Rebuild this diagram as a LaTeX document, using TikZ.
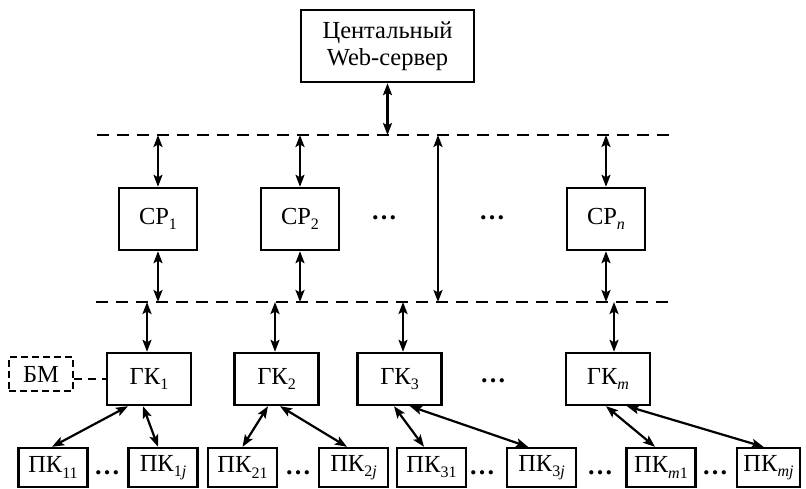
\documentclass[tikz,border=0pt]{standalone}
\usepackage{fontspec}
\setmainfont{Liberation Serif}
\usetikzlibrary{arrows.meta}
\newcommand\sbs[1]{\raisebox{-0.45ex}{\fontsize{16}{16}\selectfont #1}}
\begin{document}
\begin{tikzpicture}[x=1pt,y=-1pt,
  every node/.style={font=\fontsize{24.5}{27}\selectfont},
  box/.style={draw,line width=2.4pt,minimum width=#1,inner sep=0pt},
  box/.default=78pt,
  dline/.style={line width=2.4pt,dash pattern=on 12pt off 8pt},
  arr/.style={line width=2.2pt,{Stealth[length=12pt,width=9pt,inset=2.5pt]}-{Stealth[length=12pt,width=9pt,inset=2.5pt]}},
  dots/.style={inner sep=0pt,font=\fontsize{26}{26}\selectfont\bfseries}]
\useasboundingbox (0,0) rectangle (806,489);

% top server
\node[box=173pt,minimum height=72pt,align=center] (web) at (387.5,46) {Центальный\\Web-сервер};

% dashed buses
\coordinate (T1) at (97,135);
\coordinate (T2) at (675,135);
\coordinate (B1) at (96,302);
\coordinate (B2) at (675,302);
\draw[dline] (T1) -- (T2);
\draw[dline] (B1) -- (B2);

% regional servers
\node[box,minimum height=62pt] (cp1) at (158,219) {СР\sbs{1}};
\node[box,minimum height=62pt] (cp2) at (300,219) {СР\sbs{2}};
\node[box,minimum height=62pt] (cpn) at (606,219) {СР\sbs{\textit{n}}};
\node[dots] (d1) at (384,218) {…};
\node[dots] (d2) at (492,218) {…};

\draw[arr] (web.south) -- (web.south |- T1);
\foreach \n in {cp1,cp2,cpn}{
  \draw[arr] (\n.north) -- (\n.north |- T1);
  \draw[arr] (\n.south) -- (\n.south |- B1);
}
\coordinate (VA) at (438,135);
\coordinate (VB) at (438,302);
\draw[arr] (VA) -- (VB);

% group controllers
\node[box=84pt,minimum height=52pt] (g1) at (149,379) {ГК\sbs{1}};
\node[box=84pt,minimum height=52pt] (g2) at (276.5,379) {ГК\sbs{2}};
\node[box=84pt,minimum height=52pt] (g3) at (399.5,379) {ГК\sbs{3}};
\node[box=84pt,minimum height=52pt] (gm) at (608,379) {ГК\sbs{\textit{m}}};
\node[dots] (d3) at (493,381) {…};

\draw[arr] ([xshift=-2pt]g1.north) -- ([xshift=-2pt]g1.north |- B1);
\draw[arr] ([xshift=-1.5pt]g2.north) -- ([xshift=-1.5pt]g2.north |- B1);
\draw[arr] ([xshift=3.5pt]g3.north) -- ([xshift=3.5pt]g3.north |- B1);
\draw[arr] ([xshift=6pt]gm.north) -- ([xshift=6pt]gm.north |- B1);

% memory block
\node[box=64pt,minimum height=34pt,dash pattern=on 7pt off 4pt] (bm) at (41,374) {БМ};
\draw[line width=2.4pt,dash pattern=on 8pt off 6pt] (bm.east |- g1.west) -- (g1.west);

% PCs
\tikzset{pk/.style={box=69pt,minimum height=39pt}}
\node[pk] (p11) at (53,467.5) {ПК\sbs{11}};
\node[pk] (p1j) at (163,467.5) {ПК\sbs{1\textit{j}}};
\node[pk] (p21) at (242.5,467.5) {ПК\sbs{21}};
\node[pk] (p2j) at (353.5,467.5) {ПК\sbs{2\textit{j}}};
\node[pk] (p31) at (431.5,467.5) {ПК\sbs{31}};
\node[pk] (p3j) at (541.5,467.5) {ПК\sbs{3\textit{j}}};
\node[pk] (pm1) at (661,467.5) {ПК\sbs{\textit{m}1}};
\node[box=63pt,minimum height=39pt] (pmj) at (768.5,467.5) {ПК\sbs{\textit{mj}}};

\node[dots] at (107,473) {…};
\node[dots] at (298,473) {…};
\node[dots] at (482,473) {…};
\node[dots] at (600,473) {…};
\node[dots] at (715,473) {…};

% links GK - PK
\draw[arr] ([xshift=-21pt]g1.south) -- ([xshift=-1pt]p11.north);
\draw[arr] ([xshift=-6pt]g1.south) -- ([xshift=-5pt]p1j.north);
\draw[arr] ([xshift=-8.5pt]g2.south) -- ([xshift=0pt]p21.north);
\draw[arr] ([xshift=3.5pt]g2.south) -- ([xshift=-6.5pt]p2j.north);
\draw[arr] ([xshift=-5.5pt]g3.south) -- ([xshift=-7.5pt]p31.north);
\draw[arr] ([xshift=10.5pt]g3.south) -- ([xshift=-13.5pt]p3j.north);
\draw[arr] ([xshift=-2pt]gm.south) -- ([xshift=-6pt]pm1.north);
\draw[arr] ([xshift=19pt]gm.south) -- ([xshift=-5pt]pmj.north);
\end{tikzpicture}
\end{document}
